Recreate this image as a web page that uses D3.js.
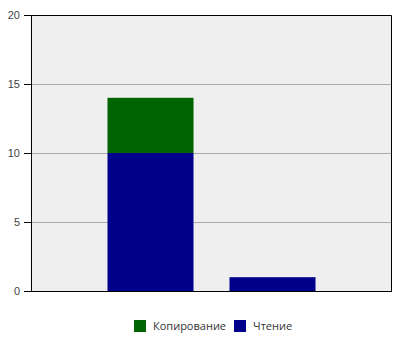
<!DOCTYPE html>
<html>
<head>
<meta charset="utf-8">
<script src="https://cdn.jsdelivr.net/npm/d3@7"></script>
<style>
  body { margin: 0; background: #fff; }
  svg { font-family: "Open Sans", "DejaVu Sans", sans-serif; }
</style>
</head>
<body>
<svg width="400" height="350"></svg>
<script>
// categories and series (stacked: Чтение at the bottom, Копирование on top)
var categories = ["A", "B"];
var seriesNames = ["Чтение", "Копирование"];
var readValues = [10, 1];
var copyValues = [4, 0];
var yTicks = [0, 5, 10, 15, 20];
var legendNames = ["Копирование", "Чтение"];

var colors = { "Чтение": "#00008b", "Копирование": "#006400" };

var table = categories.map(function(c, i) {
    return { cat: c, "Чтение": readValues[i], "Копирование": copyValues[i] };
});
var stacked = d3.stack().keys(seriesNames)(table);

var svg = d3.select("svg");
var margin = { top: 15, right: 8, bottom: 59, left: 31 },
    width = 400 - margin.left - margin.right,
    height = 350 - margin.top - margin.bottom,
    g = svg.append("g").attr("transform", "translate(" + margin.left + "," + margin.top + ")");

var x = d3.scaleBand()
    .domain(categories)
    .range([0, width])
    .paddingInner(0.295)
    .paddingOuter(0.627);

var y = d3.scaleLinear()
    .domain([0, 20])
    .range([height, 0]);

// plot background
g.append("rect")
    .attr("width", width)
    .attr("height", height)
    .attr("fill", "#efefef");

// gridlines
g.selectAll(".grid")
    .data(yTicks.filter(function(d) { return d > 0 && d < 20; }))
    .enter().append("line")
    .attr("x1", 0).attr("x2", width)
    .attr("y1", function(d) { return y(d) + 0.5; })
    .attr("y2", function(d) { return y(d) + 0.5; })
    .attr("stroke", "#ababab")
    .attr("stroke-width", 1);

// bars
var series = g.selectAll(".series")
    .data(stacked)
    .enter().append("g")
    .attr("fill", function(d) { return colors[d.key]; });

series.selectAll("rect")
    .data(function(d) { return d; })
    .enter().append("rect")
    .attr("x", function(d) { return x(d.data.cat); })
    .attr("y", function(d) { return y(d[1]); })
    .attr("width", x.bandwidth())
    .attr("height", function(d) { return y(d[0]) - y(d[1]); });

// frame: top and right
g.append("path")
    .attr("d", "M0,0.5H" + (width - 0.5) + "V" + height)
    .attr("fill", "none")
    .attr("stroke", "#000");

// y axis
var yAxis = g.append("g")
    .call(d3.axisLeft(y).tickValues(yTicks).tickSize(7).tickPadding(4));
yAxis.select(".domain").attr("stroke", "#000");
yAxis.selectAll("text").attr("font-size", 11).attr("fill", "#444");

// x axis line only
g.append("line")
    .attr("x1", 0).attr("x2", width)
    .attr("y1", height + 0.5).attr("y2", height + 0.5)
    .attr("stroke", "#000");

// legend
var legendX = [134, 234];
var legend = svg.selectAll(".legend")
    .data(legendNames)
    .enter().append("g")
    .attr("transform", function(d, i) { return "translate(" + legendX[i] + ",320)"; });

legend.append("rect")
    .attr("width", 12)
    .attr("height", 12)
    .attr("fill", function(d) { return colors[d]; });

legend.append("text")
    .attr("x", 19)
    .attr("y", 10)
    .attr("font-size", 11)
    .attr("fill", "#333")
    .text(function(d) { return d; });
</script>
</body>
</html>
